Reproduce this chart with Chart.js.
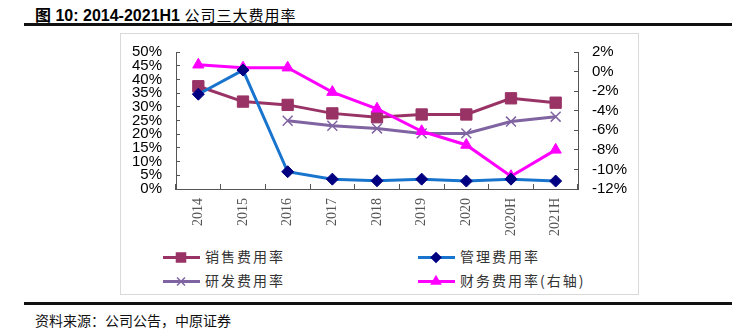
<!DOCTYPE html>
<html>
<head>
<meta charset="utf-8">
<script src="https://cdn.jsdelivr.net/npm/chart.js@4/dist/chart.umd.min.js"></script>
<style>
    body { margin: 0; background: #fff; width: 742px; height: 334px; position: relative; overflow: hidden; }
    .title { position: absolute; left: 35px; top: 2px; font: bold 16px "Liberation Sans", "Noto Sans CJK SC", sans-serif; color: #000; white-space: nowrap; }
    .title .cn { font-family: "Noto Sans CJK SC", sans-serif; font-weight: normal; font-size: 15px; letter-spacing: 1px; }
    .rule { position: absolute; left: 24px; width: 708px; height: 3px; background: #111; }
    .frame { position: absolute; left: 120px; top: 33px; width: 517px; height: 260px; border: 1px solid #d9d9d9; }
    #chart_box { position: absolute; left: 121px; top: 34px; width: 516px; height: 205px; }
    .leg { position: absolute; height: 16px; font: 14px "Noto Sans CJK SC", sans-serif; letter-spacing: 2px; color: #333; line-height: 16px; }
    .leg .ln { position: absolute; left: 0; top: 7px; width: 37px; height: 3px; }
    .leg .txt { position: absolute; left: 42px; top: -1px; white-space: nowrap; }
    .mk { position: absolute; }
    .source { position: absolute; left: 35px; top: 310px; font: 14px "Noto Sans CJK SC", sans-serif; color: #111; }
</style>
</head>
<body>
<div class="title">图 10: 2014-2021H1 <span class="cn">公司三大费用率</span></div>
<div class="rule" style="top:23px"></div>
<div class="frame"></div>
<div id="chart_box"><canvas id="fee_chart" width="516" height="205"></canvas></div>
<div id="legend"></div>
<div class="rule" style="top:302px"></div>
<div class="source">资料来源：公司公告，中原证券</div>

<script>
// categories and values (percent)
const years = ['2014', '2015', '2016', '2017', '2018', '2019', '2020', '2020H', '2021H'];
const sales_rate = [37.5, 31.9, 30.7, 27.6, 26.2, 27.2, 27.2, 33.1, 31.5];
const admin_rate = [34.6, 43.4, 6.3, 3.6, 3.0, 3.6, 2.9, 3.6, 2.9];
const rd_rate = [null, null, 24.9, 23.1, 22.1, 20.3, 20.3, 24.6, 26.4];
const finance_rate = [0.7, 0.4, 0.4, -2.1, -3.8, -6.1, -7.5, -10.7, -8.0]; // right axis

const left_ticks = [0, 50, 5];     // min, max, step
const right_ticks = [-12, 2, 2];

const series_names = ['销售费用率', '管理费用率', '研发费用率', '财务费用率(右轴)'];

const axis_color = '#555';

// keep the vertical axes from pushing the plot down (ticks.padding is added to their top padding)
function fixWidth(w) {
    return s => {
        s.width = w;
        s.paddingTop = 8;
        s.paddingBottom = 8;
    };
}

const ctx = document.getElementById('fee_chart').getContext('2d');
const myChart = new Chart(ctx, {
    type: 'line',
    data: {
        labels: years,
        datasets: [{
            label: series_names[0],
            data: sales_rate,
            yAxisID: 'y',
            borderColor: '#993366',
            backgroundColor: '#993366',
            borderWidth: 3,
            pointStyle: 'rect',
            pointRadius: 8,
            pointBorderWidth: 1,
            order: 3
        }, {
            label: series_names[1],
            data: admin_rate,
            yAxisID: 'y',
            borderColor: '#1874CD',
            backgroundColor: '#000080',
            pointBorderColor: '#000080',
            borderWidth: 3,
            pointStyle: 'rectRot',
            pointRadius: 6,
            pointBorderWidth: 1,
            order: 0
        }, {
            label: series_names[2],
            data: rd_rate,
            yAxisID: 'y',
            borderColor: '#8064A2',
            backgroundColor: '#8064A2',
            borderWidth: 3,
            pointStyle: 'crossRot',
            pointRadius: 7,
            pointBorderWidth: 1.5,
            order: 2
        }, {
            label: series_names[3],
            data: finance_rate,
            yAxisID: 'y1',
            borderColor: '#FF00FF',
            backgroundColor: '#FF00FF',
            borderWidth: 3,
            pointStyle: 'triangle',
            pointRadius: 6.5,
            pointBorderWidth: 1,
            order: 1
        }]
    },
    options: {
        responsive: false,
        animation: false,
        devicePixelRatio: 1,
        layout: { padding: { top: 18, left: 0, right: 0, bottom: 0 } },
        plugins: {
            legend: { display: false },
            tooltip: { enabled: false }
        },
        scales: {
            x: {
                offset: true,
                grid: { offset: true, drawOnChartArea: false, tickLength: -5, color: axis_color },
                border: { color: axis_color, width: 1 },
                ticks: {
                    autoSkip: false,
                    minRotation: 90,
                    maxRotation: 90,
                    padding: 14,
                    color: '#555',
                    font: { family: '"Liberation Serif", "DejaVu Serif", serif', size: 14 }
                },
                afterFit: s => { s.height = 50; }
            },
            y: {
                position: 'left',
                min: left_ticks[0],
                max: left_ticks[1],
                grid: { drawOnChartArea: false, tickLength: -4, color: axis_color },
                border: { color: axis_color, width: 1 },
                ticks: {
                    autoSkip: false,
                    stepSize: left_ticks[2],
                    padding: 18,
                    color: '#000',
                    font: { family: '"Liberation Sans", Arial, sans-serif', size: 15 },
                    callback: v => v + '%'
                },
                afterFit: fixWidth(55)
            },
            y1: {
                position: 'right',
                min: right_ticks[0],
                max: right_ticks[1],
                grid: { drawOnChartArea: false, tickLength: -4, color: axis_color },
                border: { color: axis_color, width: 1 },
                ticks: {
                    autoSkip: false,
                    stepSize: right_ticks[2],
                    padding: 18,
                    color: '#000',
                    font: { family: '"Liberation Sans", Arial, sans-serif', size: 15 },
                    callback: v => v + '%'
                },
                afterFit: fixWidth(59)
            }
        }
    }
});

// LEGEND (two columns, line with marker in the middle)
const legend_div = document.getElementById('legend');
const leg_pos = [[163, 249], [418, 249], [163, 273], [418, 273]];
myChart.data.datasets.forEach((ds, i) => {
    const item = document.createElement('div');
    item.className = 'leg';
    item.style.left = leg_pos[i][0] + 'px';
    item.style.top = leg_pos[i][1] + 'px';

    const line = document.createElement('div');
    line.className = 'ln';
    line.style.background = ds.borderColor;
    item.appendChild(line);

    const mk = document.createElement('canvas');
    mk.className = 'mk';
    mk.width = 16; mk.height = 16;
    mk.style.left = '10px';
    mk.style.top = '0px';
    const c = mk.getContext('2d');
    c.fillStyle = ds.backgroundColor;
    c.strokeStyle = ds.pointBorderColor || ds.borderColor;
    c.lineWidth = 1.5;
    Chart.helpers.drawPoint(c, { pointStyle: ds.pointStyle, radius: ds.pointRadius * 0.8, borderWidth: 1 }, 8, 8.5);
    item.appendChild(mk);

    const txt = document.createElement('span');
    txt.className = 'txt';
    txt.textContent = ds.label;
    item.appendChild(txt);

    legend_div.appendChild(item);
});
</script>
</body>
</html>
